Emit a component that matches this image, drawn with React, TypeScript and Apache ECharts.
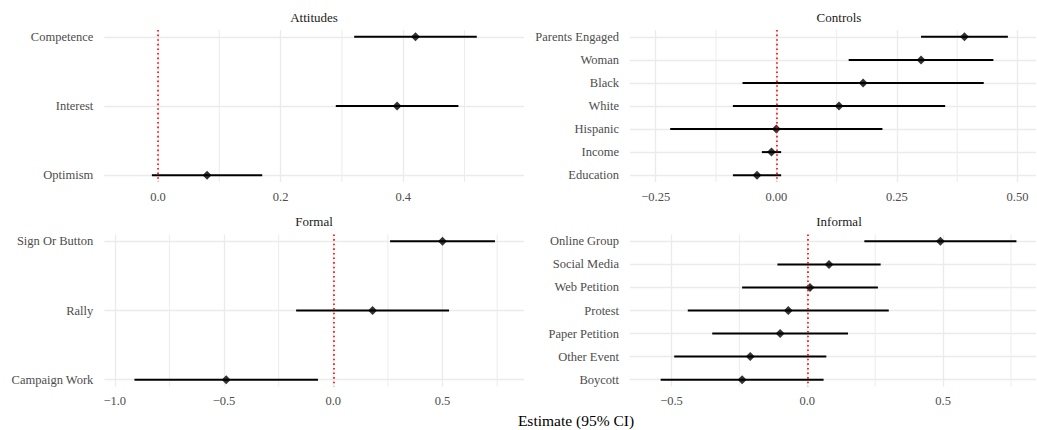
import React, { useEffect, useRef } from "react";
import * as echarts from "echarts";

// ---------- data ----------
const attitudesCats = ["Competence", "Interest", "Optimism"];
const attitudesEst = [0.42, 0.39, 0.08];
const attitudesLo = [0.32, 0.29, -0.01];
const attitudesHi = [0.52, 0.49, 0.17];
const attitudesTicks = [0, 0.2, 0.4];
const attitudesMinor = [0.1, 0.3, 0.5];

const controlsCats = ["Parents Engaged", "Woman", "Black", "White", "Hispanic", "Income", "Education"];
const controlsEst = [0.39, 0.3, 0.18, 0.13, 0.0, -0.01, -0.04];
const controlsLo = [0.3, 0.15, -0.07, -0.09, -0.22, -0.03, -0.09];
const controlsHi = [0.48, 0.45, 0.43, 0.35, 0.22, 0.01, 0.01];
const controlsTicks = [-0.25, 0, 0.25, 0.5];
const controlsMinor = [-0.125, 0.125, 0.375];

const formalCats = ["Sign Or Button", "Rally", "Campaign Work"];
const formalEst = [0.5, 0.18, -0.49];
const formalLo = [0.26, -0.17, -0.91];
const formalHi = [0.74, 0.53, -0.07];
const formalTicks = [-1, -0.5, 0, 0.5];
const formalMinor = [-0.75, -0.25, 0.25, 0.75];

const informalCats = ["Online Group", "Social Media", "Web Petition", "Protest", "Paper Petition", "Other Event", "Boycott"];
const informalEst = [0.49, 0.08, 0.01, -0.07, -0.1, -0.21, -0.24];
const informalLo = [0.21, -0.11, -0.24, -0.44, -0.35, -0.49, -0.54];
const informalHi = [0.77, 0.27, 0.26, 0.3, 0.15, 0.07, 0.06];
const informalTicks = [-0.5, 0, 0.5];
const informalMinor = [-0.25, 0.25, 0.75];

const panelTitles = ["Attitudes", "Controls", "Formal", "Informal"];
const xAxisTitle = "Estimate (95% CI)";

// ---------- layout ----------
const FONT = "Liberation Serif";
const panels = [
  { title: panelTitles[0], cats: attitudesCats, est: attitudesEst, lo: attitudesLo, hi: attitudesHi, ticks: attitudesTicks, minor: attitudesMinor, dec: 1, xmin: -0.0876, xmax: 0.597, left: 104.3, width: 419.7, top: 30, height: 152, tx: 314, ty: 17 },
  { title: panelTitles[1], cats: controlsCats, est: controlsEst, lo: controlsLo, hi: controlsHi, ticks: controlsTicks, minor: controlsMinor, dec: 2, xmin: -0.3033, xmax: 0.5383, left: 630, width: 406, top: 30, height: 152, tx: 839, ty: 17 },
  { title: panelTitles[2], cats: formalCats, est: formalEst, lo: formalLo, hi: formalHi, ticks: formalTicks, minor: formalMinor, dec: 1, xmin: -1.048, xmax: 0.873, left: 104.3, width: 419.7, top: 234.5, height: 152, tx: 314, ty: 221 },
  { title: panelTitles[3], cats: informalCats, est: informalEst, lo: informalLo, hi: informalHi, ticks: informalTicks, minor: informalMinor, dec: 1, xmin: -0.6528, xmax: 0.8421, left: 630, width: 406, top: 234.5, height: 152, tx: 839, ty: 221 },
];

function fmt(v: number, dec: number) {
  return v.toFixed(dec).replace("-", "\u2212");
}

function buildOption() {
  const grid: any[] = [];
  const xAxis: any[] = [];
  const yAxis: any[] = [];
  const series: any[] = [];
  const graphic: any[] = [];

  panels.forEach((p, k) => {
    const n = p.cats.length;
    const pad = 6.85 / (138.3 / (n - 1));
    const idx = p.cats.map((_, i) => i);
    grid.push({ left: p.left, top: p.top, width: p.width, height: p.height, containLabel: false });
    xAxis.push({
      type: "value",
      gridIndex: k,
      min: p.xmin,
      max: p.xmax,
      axisLine: { show: false },
      axisTick: { show: false, customValues: p.ticks },
      axisLabel: {
        customValues: p.ticks,
        formatter: (v: number) => fmt(v, p.dec),
        color: "#4d4d4d",
        fontFamily: FONT,
        fontSize: 12.5,
        margin: 8,
      },
      splitLine: { show: true, lineStyle: { color: "#ebebeb", width: 1.3 } },
    });
    yAxis.push({
      type: "value",
      gridIndex: k,
      inverse: true,
      min: -pad,
      max: n - 1 + pad,
      axisLine: { show: false },
      axisTick: { show: false, customValues: idx },
      axisLabel: {
        customValues: idx,
        formatter: (v: number) => p.cats[Math.round(v)] ?? "",
        color: "#4d4d4d",
        fontFamily: FONT,
        fontSize: 12.5,
        margin: 11,
      },
      splitLine: { show: true, lineStyle: { color: "#ebebeb", width: 1.3 } },
    });
    // minor vertical grid lines + zero reference line
    series.push({
      type: "custom",
      xAxisIndex: k,
      yAxisIndex: k,
      z: 1,
      silent: true,
      data: p.minor.map((v) => [v, 0]),
      encode: { x: 0, y: 1 },
      renderItem: (params: any, api: any) => {
        const x = api.coord([api.value(0), 0])[0];
        const cs = params.coordSys;
        return {
          type: "line",
          shape: { x1: x, y1: cs.y, x2: x, y2: cs.y + cs.height },
          style: { stroke: "#ececec", lineWidth: 1 },
        };
      },
      markLine: {
        silent: true,
        symbol: ["none", "none"],
        label: { show: false },
        lineStyle: { color: "#ff0000", type: [1.6, 3], width: 1.6, opacity: 1 },
        emphasis: { disabled: true },
        data: [{ xAxis: 0 }],
      },
    });
    // confidence intervals
    series.push({
      type: "custom",
      xAxisIndex: k,
      yAxisIndex: k,
      z: 3,
      silent: true,
      data: idx.map((i) => [p.lo[i], i, p.hi[i]]),
      encode: { x: [0, 2], y: 1 },
      renderItem: (params: any, api: any) => {
        const y = api.value(1);
        const a = api.coord([api.value(0), y]);
        const b = api.coord([api.value(2), y]);
        return {
          type: "line",
          shape: { x1: a[0], y1: a[1], x2: b[0], y2: b[1] },
          style: { stroke: "#000000", lineWidth: 2 },
        };
      },
    });
    // point estimates
    series.push({
      type: "scatter",
      xAxisIndex: k,
      yAxisIndex: k,
      z: 4,
      silent: true,
      symbol: "diamond",
      symbolSize: 9,
      itemStyle: { color: "#000000" },
      data: idx.map((i) => [p.est[i], i]),
    });
    graphic.push({
      type: "text",
      x: p.tx,
      y: p.ty,
      style: {
        text: p.title,
        fill: "#1a1a1a",
        font: `13px "${FONT}"`,
        align: "center",
        verticalAlign: "middle",
      },
    });
  });

  graphic.push({
    type: "text",
    x: 576,
    y: 420,
    style: {
      text: xAxisTitle,
      fill: "#000000",
      font: `15.5px "${FONT}"`,
      align: "center",
      verticalAlign: "middle",
    },
  });

  return {
    animation: false,
    backgroundColor: "#ffffff",
    grid,
    xAxis,
    yAxis,
    series,
    graphic,
  };
}

export default function App() {
  const ref = useRef<HTMLDivElement>(null);
  useEffect(() => {
    if (!ref.current) return;
    const chart = echarts.init(ref.current, undefined, { renderer: "svg" });
    chart.setOption(buildOption() as any);
    return () => chart.dispose();
  }, []);
  return <div ref={ref} style={{ width: 1037, height: 430, position: "absolute", left: 0, top: 0 }} />;
}
